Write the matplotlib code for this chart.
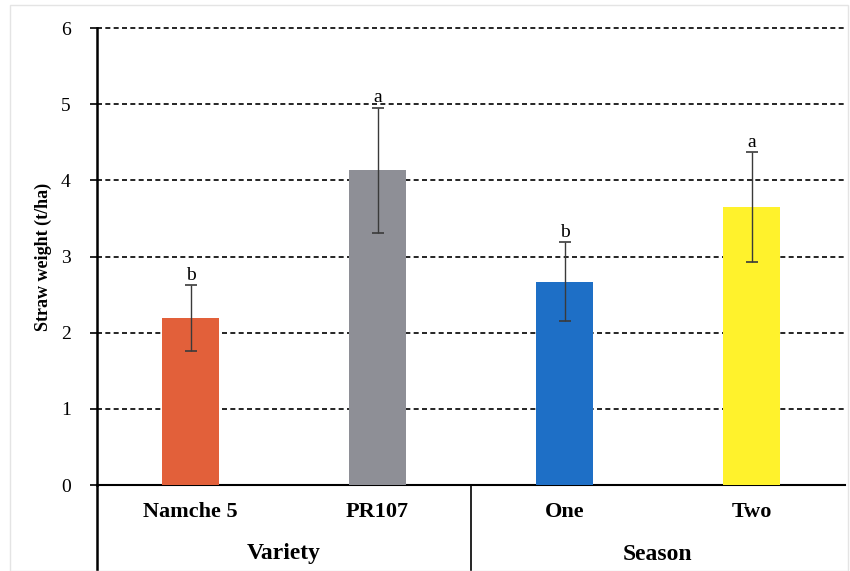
import numpy as np
import matplotlib.pyplot as plt
from matplotlib.patches import Rectangle

categories = ['Namche 5', 'PR107', 'One', 'Two']
groups = ['Variety', 'Season']
values = [2.19, 4.13, 2.67, 3.65]
errors = [0.43, 0.82, 0.52, 0.72]
letters = ['b', 'a', 'b', 'a']
colors = ['#E2603A', '#8E8F96', '#1E6FC6', '#FFF22C']

plt.rcParams['font.family'] = ['Liberation Serif', 'DejaVu Serif']

fig = plt.figure(figsize=(8.5, 5.71), dpi=100)
ax = fig.add_axes([97/850, 1-485/571, 748/850, 457/571])

x = np.arange(len(categories))
ax.bar(x, values, width=0.31, color=colors, zorder=3)
ax.errorbar(x, values, yerr=errors, fmt='none', ecolor='#3a3a3a',
            elinewidth=1, capsize=4, capthick=1.2, zorder=4)
for xi, v, e, l in zip(x, values, errors, letters):
    ax.text(xi, v + e + 0.02, l, ha='center', va='bottom', fontsize=14)

ax.set_xlim(-0.5, 3.5)
ax.set_ylim(0, 6)
ax.set_yticks(range(7))
ax.tick_params(axis='y', labelsize=14, length=5, width=1.2, pad=14)
ax.set_xticks(x)
ax.set_xticklabels(categories, fontsize=16, fontweight='bold')
ax.tick_params(axis='x', length=0, pad=12)
ax.grid(axis='y', color='black', linestyle=(0, (3, 2)), linewidth=1.2, zorder=0)
for gl in ax.get_ygridlines():
    gl.set_clip_on(False)

for s in ['top', 'right']:
    ax.spines[s].set_visible(False)
ax.spines['left'].set_linewidth(1.8)
ax.spines['bottom'].set_linewidth(1.5)

ax.set_ylabel('Straw weight (t/ha)', fontsize=13, fontweight='bold', labelpad=6)

# category separators below the axis
low = -(485/571) / (457/571)
ax.plot([0, 0], [0, low], transform=ax.transAxes, color='black', lw=1.8, clip_on=False)
ax.plot([0.5, 0.5], [0, low], transform=ax.transAxes, color='black', lw=1.2, clip_on=False)
for gi, g in enumerate(groups):
    ax.text(0.25 + 0.5 * gi, -69/457, g, transform=ax.transAxes, ha='center', va='center',
            fontsize=17, fontweight='bold')

fig.patches.append(Rectangle((10/850, 0), 838/850, 1-5/571, transform=fig.transFigure,
                             fill=False, edgecolor='#e4e4e4', lw=1))

fig.savefig('out.png', dpi=100)
